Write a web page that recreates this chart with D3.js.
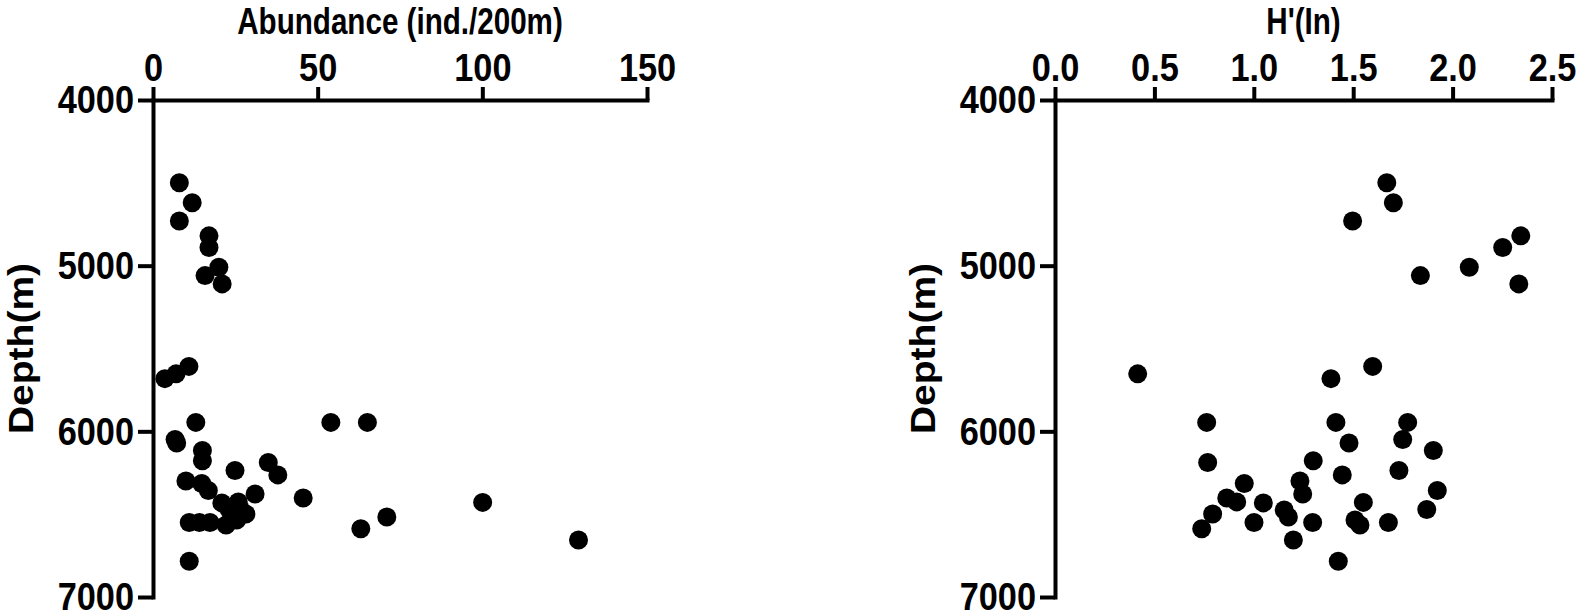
<!DOCTYPE html>
<html>
<head>
<meta charset="utf-8">
<script src="https://cdn.jsdelivr.net/npm/d3@7/dist/d3.min.js"></script>
<style>
  html, body { margin: 0; padding: 0; background: #fff; }
  svg { display: block; }
  text { font-family: "Liberation Sans", Arial, sans-serif; font-weight: bold; fill: #000; }
</style>
</head>
<body>
<svg id="chart" width="1580" height="612"></svg>
<script>
// Station depths (m)
const depths = [4500, 4620, 4730, 4820, 4890, 5010, 5060, 5110,
  5608, 5653, 5682, 5946, 5946, 5946, 6049, 6070, 6116, 6178, 6188, 6236,
  6263, 6300, 6315, 6357, 6378, 6402, 6429, 6432, 6426, 6472, 6475, 6499,
  6517, 6550, 6550, 6550, 6565, 6535, 6588, 6656, 6784];
// Abundance (ind./200m)
const abundance = [8.0, 11.9, 8.0, 17.0, 17.0, 20.0, 15.8, 21.0,
  10.9, 7.0, 3.6, 13.0, 54.0, 65.1, 6.7, 7.2, 15.0, 15.0, 35.0, 24.9,
  37.9, 10.0, 14.8, 16.8, 31.0, 45.6, 100.1, 20.9, 25.9, 23.1, 26.7, 28.2,
  71.0, 11.0, 14.1, 17.3, 22.2, 25.4, 63.1, 129.2, 11.0];
// Shannon diversity H'(ln)
const diversity = [1.669, 1.702, 1.497, 2.343, 2.252, 2.084, 1.838, 2.333,
  1.598, 0.416, 1.388, 0.763, 1.413, 1.774, 1.749, 1.479, 1.903, 1.299, 0.768, 1.730,
  1.445, 1.232, 0.952, 1.923, 1.246, 0.864, 1.551, 1.048, 0.914, 1.870, 1.153, 0.793,
  1.174, 1.001, 1.296, 1.677, 1.534, 1.509, 0.738, 1.199, 1.425];

const depthTicks = [4000, 5000, 6000, 7000];
const abundanceTicks = [0, 50, 100, 150];
const diversityTicks = [0, 0.5, 1.0, 1.5, 2.0, 2.5];

const svg = d3.select("#chart");
svg.append("rect").attr("width", 1580).attr("height", 612).attr("fill", "#fff");

const FS = 39;     // tick label font size
const SX = 0.88;   // horizontal squash of tick text
const TFS = 37;    // title font size
const TSX = 0.8;   // horizontal squash of titles

const y = d3.scaleLinear().domain([4000, 7000]).range([100, 597]);

function panel(opts) {
  const g = svg.append("g");
  const x = d3.scaleLinear().domain(opts.domain).range(opts.range);

  const xa = g.append("g").attr("transform", `translate(0,${y(4000)})`)
    .call(d3.axisTop(x).tickValues(opts.ticks).tickFormat(opts.fmt)
      .tickSize(13).tickSizeOuter(0).tickPadding(6));
  const ya = g.append("g").attr("transform", `translate(${x(0)},0)`)
    .call(d3.axisLeft(y).tickValues(depthTicks).tickFormat(d3.format("d"))
      .tickSize(15).tickSizeOuter(0).tickPadding(3));

  [xa, ya].forEach(a => {
    a.select(".domain").attr("stroke", "#000").attr("stroke-width", 4).attr("stroke-linecap", "square");
    a.selectAll(".tick line").attr("stroke", "#000").attr("stroke-width", 4);
    a.selectAll(".tick text").attr("font-size", FS).attr("fill", "#000")
      .attr("font-family", '"Liberation Sans", Arial, sans-serif').attr("font-weight", "bold");
  });
  xa.selectAll(".tick text").attr("transform", `scale(${SX},1)`).attr("dy", 0);
  ya.selectAll(".tick text").attr("transform", `scale(${SX},1)`).attr("x", -19 / SX).attr("dy", "0.33em");

  const cx = (opts.range[0] + opts.range[1]) / 2;
  g.append("text").attr("transform", `translate(${cx},34) scale(${TSX},1)`)
    .attr("text-anchor", "middle").attr("font-size", TFS).text(opts.title);

  g.append("text").attr("transform", `translate(${x(0) - 120},${(y(4000) + y(7000)) / 2}) scale(${SX},1) rotate(-90)`)
    .attr("text-anchor", "middle").attr("font-size", FS).text("Depth(m)");

  g.append("g").selectAll("circle").data(depths).join("circle")
    .attr("cx", (d, i) => x(opts.values[i]))
    .attr("cy", d => y(d))
    .attr("r", 9.5)
    .attr("fill", "#000");
}

panel({ domain: [0, 150], range: [153, 647], ticks: abundanceTicks, fmt: d3.format("d"),
        title: "Abundance (ind./200m)", values: abundance });
panel({ domain: [0, 2.5], range: [1055, 1552], ticks: diversityTicks, fmt: d3.format(".1f"),
        title: "H'(In)", values: diversity });
</script>
</body>
</html>
